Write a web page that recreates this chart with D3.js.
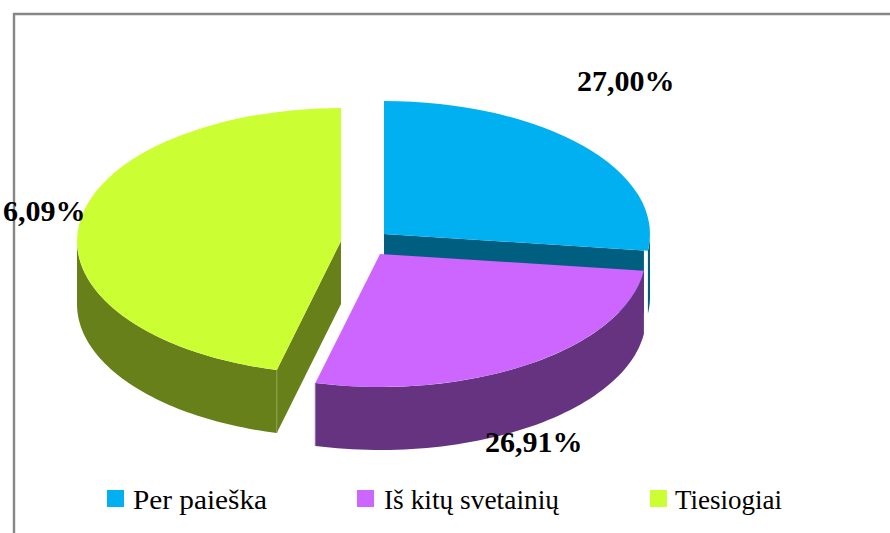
<!DOCTYPE html>
<html><head><meta charset="utf-8">
<script src="https://cdn.jsdelivr.net/npm/d3@7"></script>
<style>html,body{margin:0;padding:0;background:#fff;overflow:hidden}svg{display:block}text{font-family:"Liberation Serif",serif;fill:#000}</style>
</head><body><svg id="c" width="890" height="533"></svg>
<script>
const categories = ["Per paieška", "Iš kitų svetainių", "Tiesiogiai"];
const values = [27.00, 26.91, 46.09];
// The reference's third label has its leading digit cut away by its left edge (value 46,09%),
// so only "6,09%" is visible there.
const dataLabels = ["27,00%", "26,91%", "6,09%"];
const topColors = ["#00B0F0", "#CC66FF", "#CCFF33"];
const sideColors = ["#005F80", "#663380", "#688019"];
const centers = [[384, 234], [380, 254], [341, 241]];
const radiiX = [266, 266, 264];
const labelPos = [[577, 91], [485, 452], [3, 221]];
const legendX = [107, 357, 650];
const legendTextX = [133, 384, 675];
const legendTextW = [134, 175, 107];
const ry = 133, depth = 63;

const svg = d3.select("#c");
// chart frame (top and left edges only are within the picture)
svg.append("path").attr("d", "M14,533V14H890").attr("fill", "none").attr("stroke", "#868686").attr("stroke-width", 2.4);

const arcs = d3.pie().sort(null)(values);
const unit = d3.arc().innerRadius(0).outerRadius(1);
const px = (i, a, k = 1) => centers[i][0] + radiiX[i] * k * Math.sin(a);
const py = (i, a, k = 1) => centers[i][1] - ry * k * Math.cos(a);

function wall(i, a0, a1) {
  const n = 60, as = d3.range(n + 1).map(j => a0 + (a1 - a0) * j / n);
  return d3.area().x(a => px(i, a)).y0(a => py(i, a)).y1(a => py(i, a) + depth)(as);
}
function radialFace(i, a, k) {
  const pts = [[centers[i][0], centers[i][1]], [px(i, a, k), py(i, a, k)],
               [px(i, a, k), py(i, a, k) + depth], [centers[i][0], centers[i][1] + depth]];
  return d3.line()(pts) + "Z";
}
const g = svg.append("g");
const side = (i, d) => g.append("path").attr("d", d).attr("fill", sideColors[i]);

// blue slice: outer rim sliver, white gap, cut face, top
side(0, wall(0, Math.PI / 2, arcs[0].endAngle));
g.append("line").attr("x1", px(0, arcs[0].endAngle, 0.992)).attr("x2", px(0, arcs[0].endAngle, 0.992))
  .attr("y1", py(0, arcs[0].endAngle)).attr("y2", py(0, arcs[0].endAngle) + depth)
  .attr("stroke", "#fff").attr("stroke-width", 1.2);
side(0, radialFace(0, arcs[0].endAngle, 0.985));
// green cut face and wall
side(2, radialFace(2, arcs[2].startAngle, 1));
side(2, wall(2, arcs[2].startAngle, 3 * Math.PI / 2));
g.append("line").attr("x1", px(2, arcs[2].startAngle)).attr("x2", px(2, arcs[2].startAngle))
  .attr("y1", py(2, arcs[2].startAngle)).attr("y2", py(2, arcs[2].startAngle) + depth)
  .attr("stroke", "#8f9f52").attr("stroke-width", 1);
// purple wall
side(1, wall(1, arcs[1].startAngle, arcs[1].endAngle));
g.append("line").attr("x1", px(1, arcs[1].endAngle)).attr("x2", px(1, arcs[1].endAngle))
  .attr("y1", py(1, arcs[1].endAngle)).attr("y2", py(1, arcs[1].endAngle) + depth)
  .attr("stroke", "#8f70a5").attr("stroke-width", 1);
// tops
arcs.forEach((d, i) => {
  g.append("path").attr("d", unit(d)).attr("fill", topColors[i])
    .attr("transform", `translate(${centers[i][0]},${centers[i][1]}) scale(${radiiX[i]},${ry})`);
});
// data labels
dataLabels.forEach((t, i) => {
  svg.append("text").attr("x", labelPos[i][0]).attr("y", labelPos[i][1])
    .attr("font-size", 30).attr("font-weight", "bold").text(t);
});
// legend
categories.forEach((c, i) => {
  svg.append("rect").attr("x", legendX[i]).attr("y", 490).attr("width", 17).attr("height", 17).attr("fill", topColors[i]);
  svg.append("text").attr("x", legendTextX[i]).attr("y", 509).attr("font-size", 28)
    .attr("textLength", legendTextW[i]).attr("lengthAdjust", "spacingAndGlyphs").text(c);
});
</script></body></html>
